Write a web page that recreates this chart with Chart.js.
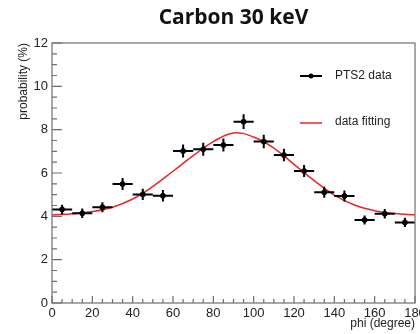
<!DOCTYPE html>
<html>
<head>
<meta charset="utf-8">
<script src="https://cdn.jsdelivr.net/npm/chart.js@4/dist/chart.umd.min.js"></script>
<style>
  html, body { margin: 0; padding: 0; background: #fff; }
  #wrap { width: 420px; height: 334px; }
</style>
</head>
<body>
<div id="wrap"><canvas id="myChart" width="420" height="334"></canvas></div>
<script>
// measured points (bin centres, probability %)
const phi = [5, 15, 25, 35, 45, 55, 65, 75, 85, 95, 105, 115, 125, 135, 145, 155, 165, 175];
const prob = [4.32, 4.14, 4.42, 5.49, 5.01, 4.95, 7.01, 7.1, 7.29, 8.37, 7.45, 6.83, 6.09, 5.11, 4.94, 3.83, 4.12, 3.72];
const probErr = [0.22, 0.22, 0.23, 0.28, 0.26, 0.26, 0.3, 0.3, 0.3, 0.34, 0.31, 0.29, 0.28, 0.25, 0.25, 0.21, 0.22, 0.21];
const binHalf = 5;

// fitted curve
const fitPhi = [0, 10, 20, 30, 40, 50, 60, 70, 80, 90, 100, 110, 120, 130, 140, 150, 160, 170, 180];
const fitProb = [4.06, 4.12, 4.22, 4.42, 4.8, 5.38, 6.08, 6.8, 7.45, 7.85, 7.66, 7.15, 6.4, 5.65, 4.98, 4.52, 4.26, 4.13, 4.07];

const titleText = 'Carbon 30 keV';
const legendLabels = ['PTS2 data', 'data fitting'];

const fitColor = '#e8262a';
const frameColor = '#6e6e6e';

// ROOT-like frame, inward ticks, error bars, legend, title
const rootStyle = {
  id: 'rootStyle',
  afterDatasetsDraw(chart) {
    const ctx = chart.ctx;
    const area = chart.chartArea;
    const xs = chart.scales.x;
    const ys = chart.scales.y;
    ctx.save();

    // error bars
    ctx.strokeStyle = '#000';
    ctx.lineWidth = 2;
    phi.forEach((p, i) => {
      const y = ys.getPixelForValue(prob[i]);
      ctx.beginPath();
      ctx.moveTo(xs.getPixelForValue(p - binHalf), y);
      ctx.lineTo(xs.getPixelForValue(p + binHalf), y);
      ctx.moveTo(xs.getPixelForValue(p), ys.getPixelForValue(prob[i] - probErr[i]));
      ctx.lineTo(xs.getPixelForValue(p), ys.getPixelForValue(prob[i] + probErr[i]));
      ctx.stroke();
    });

    // frame
    ctx.strokeStyle = frameColor;
    ctx.lineWidth = 1.2;
    ctx.strokeRect(area.left, area.top, area.right - area.left, area.bottom - area.top);

    // inward ticks
    ctx.beginPath();
    for (let v = 0; v <= 180; v += 5) {
      const x = xs.getPixelForValue(v);
      const len = v % 20 === 0 ? 7 : 4;
      ctx.moveTo(x, area.bottom);
      ctx.lineTo(x, area.bottom - len);
    }
    for (let v = 0; v <= 12; v += 0.5) {
      const y = ys.getPixelForValue(v);
      const len = v % 2 === 0 ? 10 : 5;
      ctx.moveTo(area.left, y);
      ctx.lineTo(area.left + len, y);
    }
    ctx.stroke();

    // legend
    ctx.lineWidth = 2;
    ctx.strokeStyle = '#000';
    ctx.beginPath();
    ctx.moveTo(300, 76);
    ctx.lineTo(322, 76);
    ctx.stroke();
    ctx.fillStyle = '#000';
    ctx.beginPath();
    ctx.arc(311, 76, 2.5, 0, Math.PI * 2);
    ctx.fill();
    ctx.strokeStyle = fitColor;
    ctx.lineWidth = 1.5;
    ctx.beginPath();
    ctx.moveTo(300, 123);
    ctx.lineTo(322, 123);
    ctx.stroke();
    ctx.fillStyle = '#222';
    ctx.font = '12px "Liberation Sans", Arial, sans-serif';
    ctx.textBaseline = 'middle';
    ctx.textAlign = 'left';
    ctx.fillText(legendLabels[0], 335, 76);
    ctx.fillText(legendLabels[1], 335, 122);

    // title
    ctx.fillStyle = '#111';
    ctx.font = 'bold 21px "Open Sans", sans-serif';
    ctx.textAlign = 'center';
    ctx.textBaseline = 'alphabetic';
    ctx.fillText(titleText, (area.left + area.right) / 2, 24);

    ctx.restore();
  }
};

const data = {
  datasets: [{
    label: legendLabels[0],
    type: 'scatter',
    data: phi.map((p, i) => ({ x: p, y: prob[i] })),
    backgroundColor: '#000',
    borderColor: '#000',
    pointRadius: 2.5,
    pointHoverRadius: 2.5,
    order: 1
  }, {
    label: legendLabels[1],
    type: 'line',
    data: fitPhi.map((p, i) => ({ x: p, y: fitProb[i] })),
    borderColor: fitColor,
    borderWidth: 1.5,
    pointRadius: 0,
    tension: 0.4,
    fill: false,
    order: 2
  }]
};

const tickFont = { family: '"Liberation Sans", Arial, sans-serif', size: 13 };
const titleFont = { family: '"Liberation Sans", Arial, sans-serif', size: 12 };

const config = {
  type: 'scatter',
  data: data,
  options: {
    responsive: false,
    animation: false,
    layout: { padding: { top: 43, right: 5, left: 0, bottom: 0 }, autoPadding: false },
    plugins: { legend: { display: false }, tooltip: { enabled: false } },
    scales: {
      x: {
        type: 'linear',
        min: 0,
        max: 180,
        grid: { display: false, drawTicks: false },
        border: { display: false },
        ticks: { stepSize: 20, color: '#222', font: tickFont, padding: 3, maxRotation: 0 },
        title: { display: true, text: 'phi (degree)', align: 'end', color: '#222', font: titleFont, padding: { top: 2, bottom: 3 } },
        afterFit(scale) {
          scale.height = 31;
          scale.paddingLeft = 0;
          scale.paddingRight = 0;
        }
      },
      y: {
        min: 0,
        max: 12,
        grid: { display: false, drawTicks: false },
        border: { display: false },
        ticks: { stepSize: 2, color: '#222', font: tickFont, padding: 4 },
        title: { display: true, text: 'probability (%)', align: 'end', color: '#222', font: titleFont, padding: { top: 16, bottom: 0 } },
        afterFit(scale) {
          scale.width = 52;
          scale.paddingTop = 0;
          scale.paddingBottom = 0;
        }
      }
    }
  },
  plugins: [rootStyle]
};

const myChart = new Chart(document.getElementById('myChart'), config);
</script>
</body>
</html>
